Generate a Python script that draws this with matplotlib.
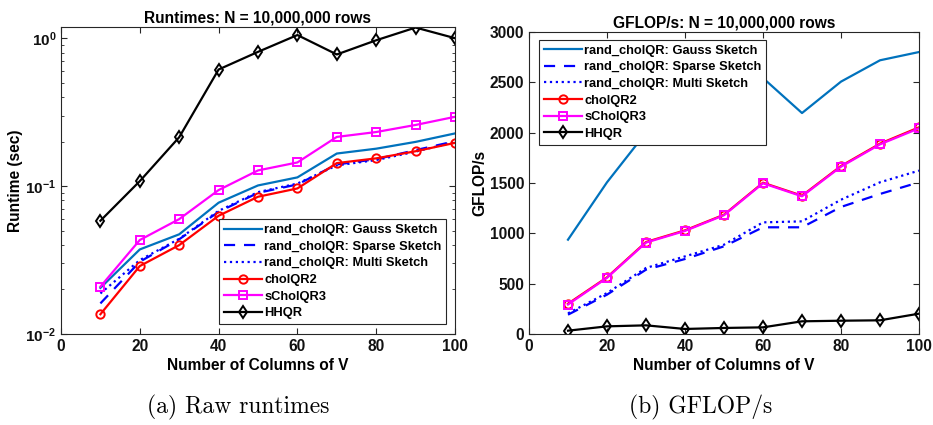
import matplotlib
matplotlib.use('Agg')
import matplotlib.pyplot as plt
from matplotlib.ticker import LogLocator, NullFormatter

plt.rcParams['font.family'] = ['Liberation Sans', 'DejaVu Sans']
plt.rcParams['font.weight'] = 'bold'
# make the 10^x tick labels use the same sans face as the rest
plt.rcParams['mathtext.fontset'] = 'custom'
plt.rcParams['mathtext.rm'] = 'Liberation Sans'
plt.rcParams['mathtext.bf'] = 'Liberation Sans:bold'

# number of columns of V
cols = [10, 20, 30, 40, 50, 60, 70, 80, 90, 100]

# runtimes (sec)
rt_gauss = [0.0205, 0.0373, 0.0472, 0.0772, 0.101, 0.1145, 0.166, 0.179, 0.199, 0.227]
rt_sparse = [0.0161, 0.0308, 0.0437, 0.067, 0.090, 0.1026, 0.140, 0.152, 0.175, 0.201]
rt_multi = [0.0188, 0.0316, 0.044, 0.068, 0.091, 0.104, 0.138, 0.150, 0.171, 0.199]
rt_chol2 = [0.0136, 0.0288, 0.0399, 0.063, 0.0847, 0.0964, 0.143, 0.154, 0.172, 0.196]
rt_schol3 = [0.0209, 0.0432, 0.0598, 0.094, 0.1276, 0.1445, 0.215, 0.232, 0.259, 0.294]
rt_hhqr = [0.0583, 0.108, 0.214, 0.614, 0.808, 1.05, 0.776, 0.968, 1.18, 1.0]

# GFLOP/s (gauss 30-50 hidden behind the legend)
gf_gauss = [937, 1507, 2000, 2250, 2450, 2543, 2195, 2507, 2719, 2801]
gf_sparse = [192, 391, 639, 745, 871, 1060, 1060, 1262, 1391, 1507]
gf_multi = [205, 407, 656, 771, 887, 1109, 1119, 1334, 1507, 1623]
gf_chol2 = [301, 563, 914, 1030, 1185, 1503, 1374, 1669, 1891, 2053]
gf_schol3 = [293, 558, 908, 1024, 1180, 1497, 1368, 1662, 1884, 2043]
gf_hhqr = [33, 76, 86, 50, 60, 66, 126, 132, 136, 202]

labels = ['rand_cholQR: Gauss Sketch', 'rand_cholQR: Sparse Sketch',
          'rand_cholQR: Multi Sketch', 'cholQR2', 'sCholQR3', 'HHQR']

MATLAB_BLUE = '#0072BD'
MAGENTA = '#FF00FF'
FRAME = '#262626'
LW = 1.6
FS = 11.2


# draw the six series on one axes
def draw_series(ax, g, s, m, c2, s3, hh):
    ax.plot(cols, g, '-', color=MATLAB_BLUE, lw=LW, label=labels[0])
    ax.plot(cols, s, '--', color='b', lw=LW, dashes=(5, 4), label=labels[1])
    ax.plot(cols, m, ':', color='b', lw=LW, label=labels[2])
    ax.plot(cols, c2, '-o', color='r', lw=LW, ms=6, mfc='none', mew=1.4, label=labels[3])
    ax.plot(cols, s3, '-s', color=MAGENTA, lw=LW, ms=5.5, mfc='none', mew=1.4, label=labels[4])
    ax.plot(cols, hh, '-d', color='k', lw=LW, ms=6, mfc='none', mew=1.4, label=labels[5])


def style_axes(ax):
    for sp in ax.spines.values():
        sp.set_color(FRAME)
        sp.set_linewidth(0.8)
    ax.tick_params(which='both', direction='in', top=True, right=True,
                   colors=FRAME, labelcolor='#111111', labelsize=FS)
    ax.tick_params(which='major', length=4)
    ax.tick_params(which='minor', length=2)
    ax.set_xlim(0, 100)
    ax.set_xticks([0, 20, 40, 60, 80, 100])
    ax.set_xlabel('Number of Columns of V', fontsize=FS, fontweight='bold', labelpad=3)


def add_legend(ax, loc, anchor):
    leg = ax.legend(loc=loc, bbox_to_anchor=anchor, fontsize=9.3, handlelength=3.0,
                    labelspacing=0.36, handletextpad=0.15, borderpad=0.35,
                    borderaxespad=0.0, fancybox=False, framealpha=1.0)
    leg.get_frame().set_edgecolor(FRAME)
    leg.get_frame().set_linewidth(0.8)
    for t in leg.get_texts():
        t.set_fontweight('bold')


fig = plt.figure(figsize=(9.33, 4.25), dpi=100)

# left panel: raw runtimes on a log scale
ax1 = fig.add_axes([61 / 933, 91 / 425, 394 / 933, 307 / 425])
draw_series(ax1, rt_gauss, rt_sparse, rt_multi, rt_chol2, rt_schol3, rt_hhqr)
ax1.set_yscale('log')
ax1.set_ylim(0.01, 1.19)
ax1.set_yticks([0.01, 0.1, 1])
ax1.set_yticklabels([r'$\mathbf{10^{-2}}$', r'$\mathbf{10^{-1}}$', r'$\mathbf{10^{0}}$'])
ax1.yaxis.set_minor_locator(LogLocator(base=10, subs=range(2, 10)))
ax1.yaxis.set_minor_formatter(NullFormatter())
style_axes(ax1)
ax1.tick_params(axis='y', which='major', labelsize=11)
ax1.set_ylabel('Runtime (sec)', fontsize=FS, fontweight='bold')
ax1.yaxis.set_label_coords((23 - 61) / 394, 0.5)
ax1.set_title('Runtimes: N = 10,000,000 rows', fontsize=FS, fontweight='bold', pad=3)
add_legend(ax1, 'lower left', ((219 - 61) / 394, (334 - 324) / 307))

# right panel: GFLOP/s
ax2 = fig.add_axes([529 / 933, 91 / 425, 390 / 933, 302 / 425])
draw_series(ax2, gf_gauss, gf_sparse, gf_multi, gf_chol2, gf_schol3, gf_hhqr)
ax2.set_ylim(0, 3000)
ax2.set_yticks(range(0, 3001, 500))
style_axes(ax2)
ax2.set_ylabel('GFLOP/s', fontsize=FS, fontweight='bold')
ax2.yaxis.set_label_coords((487 - 529) / 390, 0.5)
ax2.set_title('GFLOP/s: N = 10,000,000 rows', fontsize=FS, fontweight='bold', pad=3)
add_legend(ax2, 'upper left', ((539 - 529) / 390, (334 - 40) / 302))

# sub-captions under each panel
fig.text(238 / 933, 1 - 407 / 425, '(a) Raw runtimes', family='cmr10', fontsize=17,
         fontweight='normal', ha='center', va='center')
fig.text(701 / 933, 1 - 407 / 425, '(b) GFLOP/s', family='cmr10', fontsize=17,
         fontweight='normal', ha='center', va='center')

fig.savefig('out.png', dpi=100)
